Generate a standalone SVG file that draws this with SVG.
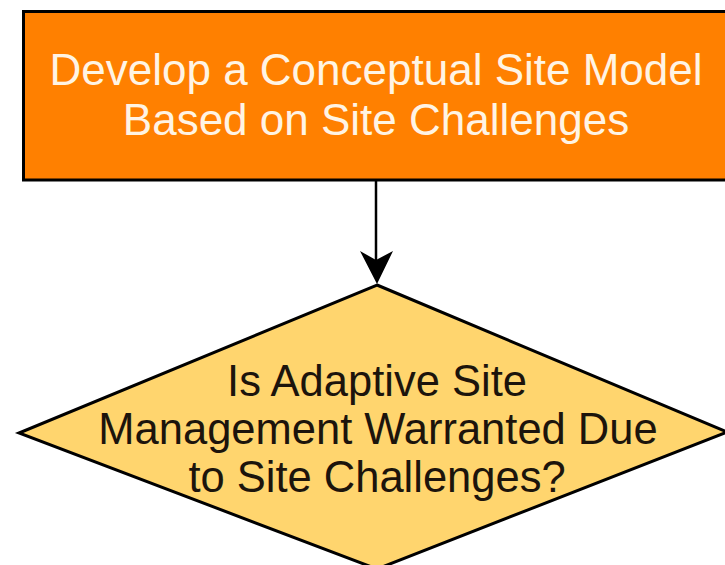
<svg xmlns="http://www.w3.org/2000/svg" width="725" height="565" viewBox="0 0 725 565">
<style>
  .lbl { font-family: "Liberation Sans", Arial, sans-serif; text-anchor: middle; }
  .proc rect { fill: #FF8000; stroke: #000; stroke-width: 3; }
  .proc text { fill: #FFF4E4; font-size: 44px; }
  .dec polygon { fill: #FFD56E; stroke: #000; stroke-width: 3; stroke-linejoin: miter; }
  .dec text { fill: #1c140c; font-size: 43.5px; }
  .conn line { stroke: #000; stroke-width: 2.5; }
  .conn polygon { fill: #000; }
</style>
<rect width="725" height="565" fill="#fff"/>
<g id="develop-model" class="proc">
  <rect x="23.5" y="11.5" width="720" height="168.5"/>
  <text class="lbl" x="376" y="85">Develop a Conceptual Site Model</text>
  <text class="lbl" x="376" y="135">Based on Site Challenges</text>
</g>
<g id="adaptive-decision" class="dec">
  <polygon points="377,285 727,432 377,569 19,433"/>
  <text class="lbl" x="377" y="396">Is Adaptive Site</text>
  <text class="lbl" x="378" y="444">Management Warranted Due</text>
  <text class="lbl" x="377" y="492">to Site Challenges?</text>
</g>
<g id="connectors" class="conn">
  <line x1="376" y1="181" x2="376" y2="262"/>
  <polygon points="360,251 376,260 393,251 377,284"/>
</g>
</svg>
